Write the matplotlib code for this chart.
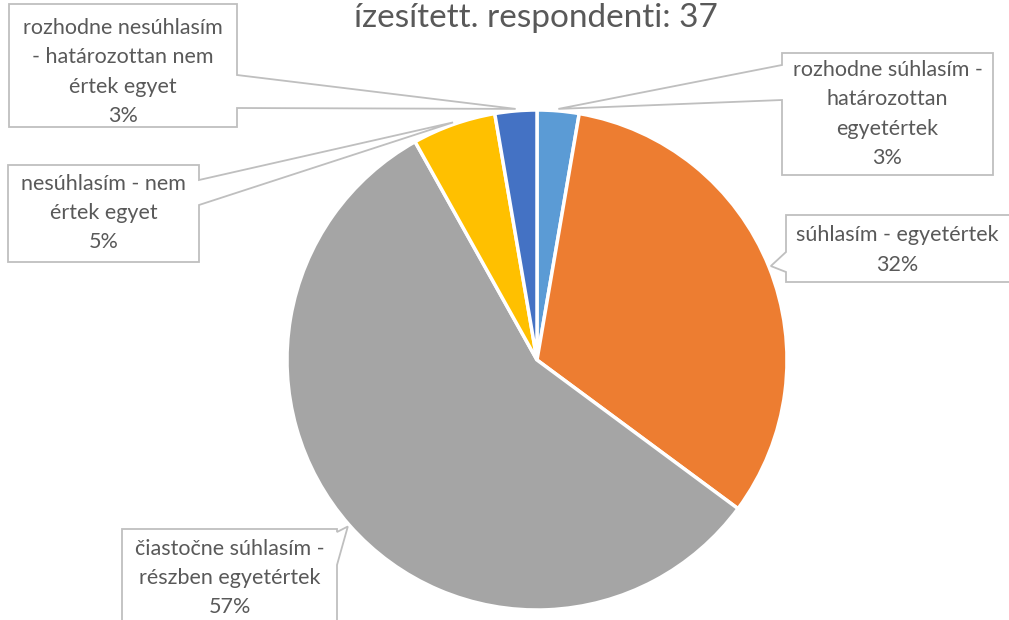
import numpy as np
import matplotlib
matplotlib.use("Agg")
import matplotlib.pyplot as plt
from matplotlib.patches import Polygon

# data, clockwise from 12 o'clock
labels = ["rozhodne súhlasím -\nhatározottan\negyetértek",
          "súhlasím - egyetértek",
          "čiastočne súhlasím -\nrészben egyetértek",
          "nesúhlasím - nem\nértek egyet",
          "rozhodne nesúhlasím\n- határozottan nem\nértek egyet"]
counts = [1, 12, 21, 2, 1]
colors = ["#5B9BD5", "#ED7D31", "#A5A5A5", "#FFC000", "#4472C4"]
title = "ízesített. respondenti: 37"

W, H = 1009, 620
plt.rcParams['font.family'] = ['Lato', 'DejaVu Sans']
TXT = "#595959"
EDGE = "#BFBFBF"

fig = plt.figure(figsize=(W / 100, H / 100), dpi=100)
ax = fig.add_axes([0, 0, 1, 1])

def Y(y):
    # image pixel row -> data y
    return H - y

cx, cy, R = 537, Y(360), 250
wedges, _ = ax.pie(counts, colors=colors, startangle=90, counterclock=False,
                   center=(cx, cy), radius=R,
                   wedgeprops=dict(edgecolor="white", linewidth=2.5))
ax.set_xlim(0, W)
ax.set_ylim(0, H)
ax.set_aspect("equal")
ax.axis("off")

# callout boxes in image pixels: (x0, y0, x1, y1), side of wedge, wedge base rows, text centre row
boxes = [
    ((782, 53, 993, 175), "left", (65, 100), 114),
    ((786, 215, 1012, 282), "left", (252, 272), 250),
    ((122, 529, 337, 650), "right", (532, 565), 578),
    ((8, 165, 199, 262), "right", (180, 205), 213),
    ((9, 4, 237, 127), "right", (75, 108), 72),
]

total = sum(counts)
for w, lab, n, (box, side, base, ty) in zip(wedges, labels, counts, boxes):
    mid = np.deg2rad((w.theta1 + w.theta2) / 2)
    tip = (cx + (R + 2) * np.cos(mid), cy + (R + 2) * np.sin(mid))
    x0, y0, x1, y1 = box
    if side == "right":
        pts = [(x0, y0), (x1, y0), (x1, base[0]), None, (x1, base[1]), (x1, y1), (x0, y1)]
    else:
        pts = [(x0, y0), (x1, y0), (x1, y1), (x0, y1), (x0, base[1]), None, (x0, base[0])]
    verts = [tip if p is None else (p[0], Y(p[1])) for p in pts]
    ax.add_patch(Polygon(verts, closed=True, facecolor="white", edgecolor=EDGE,
                         linewidth=1.3, zorder=3, clip_on=False))
    pct = f"{round(n / total * 100)}%"
    ax.text((x0 + min(x1, W)) / 2, Y(ty), lab + "\n" + pct, ha="center", va="center",
            fontsize=15.5, color=TXT, linespacing=1.58, zorder=4)

ax.text(536, Y(27), title, ha="center", va="baseline", fontsize=24, color=TXT)

fig.savefig("out.png", dpi=100)
